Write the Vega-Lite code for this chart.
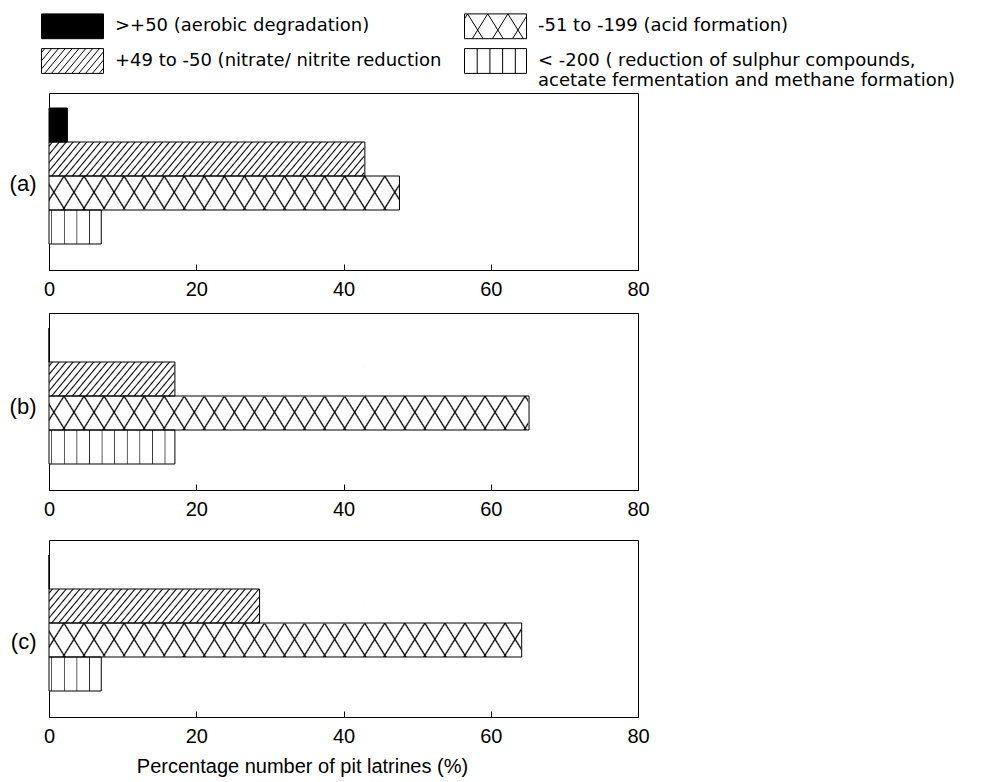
{
  "$schema": "https://vega.github.io/schema/vega-lite/v6.json",
  "padding": {"left": 8, "top": 10, "right": 0, "bottom": 0},
  "background": "white",
  "data": {"values": [
    {"panel": "a", "category": ">+50  (aerobic degradation)", "percent": 2.5},
    {"panel": "a", "category": "+49 to -50 (nitrate/ nitrite reduction", "percent": 42.9},
    {"panel": "a", "category": "-51 to -199 (acid formation)", "percent": 47.6},
    {"panel": "a", "category": "< -200 ( reduction of sulphur compounds, acetate fermentation and methane formation)", "percent": 7.1},
    {"panel": "b", "category": ">+50  (aerobic degradation)", "percent": 0},
    {"panel": "b", "category": "+49 to -50 (nitrate/ nitrite reduction", "percent": 17.1},
    {"panel": "b", "category": "-51 to -199 (acid formation)", "percent": 65.2},
    {"panel": "b", "category": "< -200 ( reduction of sulphur compounds, acetate fermentation and methane formation)", "percent": 17.1},
    {"panel": "c", "category": ">+50  (aerobic degradation)", "percent": 0},
    {"panel": "c", "category": "+49 to -50 (nitrate/ nitrite reduction", "percent": 28.6},
    {"panel": "c", "category": "-51 to -199 (acid formation)", "percent": 64.2},
    {"panel": "c", "category": "< -200 ( reduction of sulphur compounds, acetate fermentation and methane formation)", "percent": 7.1}
  ]},
  "transform": [{"joinaggregate": [{"op": "max", "field": "percent", "as": "maxPct"}], "groupby": ["category"]}],
  "spacing": 19,
  "vconcat": [
    {
      "spacing": 12,
      "vconcat": [
        {
          "width": 589, "height": 177,
          "transform": [{"filter": "datum.panel === 'a'"}],
          "encoding": {"y": {"field": "category", "type": "nominal", "scale": {"domain": [">+50  (aerobic degradation)", "+49 to -50 (nitrate/ nitrite reduction", "-51 to -199 (acid formation)", "< -200 ( reduction of sulphur compounds, acetate fermentation and methane formation)"], "paddingInner": 0, "paddingOuter": 0.6029, "align": 0.366}, "axis": {"title": "(a)", "titlePadding": 13, "titleY": 90}}},
          "layer": [
            {"transform": [{"filter": "indexof(datum.category, 'nitrate') >= 0"}], "mark": {"type": "bar", "strokeWidth": 0, "fill": {"gradient": "linear", "x1": 0, "y1": 0, "x2": 1.081, "y2": 0.0969, "stops": [
        {"offset":0.006,"color":"#fff"},{"offset":0.010,"color":"#000"},{"offset":0.014,"color":"#fff"},
        {"offset":0.026,"color":"#fff"},{"offset":0.030,"color":"#000"},{"offset":0.034,"color":"#fff"},
        {"offset":0.046,"color":"#fff"},{"offset":0.050,"color":"#000"},{"offset":0.054,"color":"#fff"},
        {"offset":0.066,"color":"#fff"},{"offset":0.070,"color":"#000"},{"offset":0.074,"color":"#fff"},
        {"offset":0.086,"color":"#fff"},{"offset":0.090,"color":"#000"},{"offset":0.094,"color":"#fff"},
        {"offset":0.106,"color":"#fff"},{"offset":0.110,"color":"#000"},{"offset":0.114,"color":"#fff"},
        {"offset":0.126,"color":"#fff"},{"offset":0.130,"color":"#000"},{"offset":0.134,"color":"#fff"},
        {"offset":0.146,"color":"#fff"},{"offset":0.150,"color":"#000"},{"offset":0.154,"color":"#fff"},
        {"offset":0.166,"color":"#fff"},{"offset":0.170,"color":"#000"},{"offset":0.174,"color":"#fff"},
        {"offset":0.186,"color":"#fff"},{"offset":0.190,"color":"#000"},{"offset":0.194,"color":"#fff"},
        {"offset":0.206,"color":"#fff"},{"offset":0.210,"color":"#000"},{"offset":0.214,"color":"#fff"},
        {"offset":0.226,"color":"#fff"},{"offset":0.230,"color":"#000"},{"offset":0.234,"color":"#fff"},
        {"offset":0.246,"color":"#fff"},{"offset":0.250,"color":"#000"},{"offset":0.254,"color":"#fff"},
        {"offset":0.266,"color":"#fff"},{"offset":0.270,"color":"#000"},{"offset":0.274,"color":"#fff"},
        {"offset":0.286,"color":"#fff"},{"offset":0.290,"color":"#000"},{"offset":0.294,"color":"#fff"},
        {"offset":0.306,"color":"#fff"},{"offset":0.310,"color":"#000"},{"offset":0.314,"color":"#fff"},
        {"offset":0.326,"color":"#fff"},{"offset":0.330,"color":"#000"},{"offset":0.334,"color":"#fff"},
        {"offset":0.346,"color":"#fff"},{"offset":0.350,"color":"#000"},{"offset":0.354,"color":"#fff"},
        {"offset":0.366,"color":"#fff"},{"offset":0.370,"color":"#000"},{"offset":0.374,"color":"#fff"},
        {"offset":0.386,"color":"#fff"},{"offset":0.390,"color":"#000"},{"offset":0.394,"color":"#fff"},
        {"offset":0.406,"color":"#fff"},{"offset":0.410,"color":"#000"},{"offset":0.414,"color":"#fff"},
        {"offset":0.426,"color":"#fff"},{"offset":0.430,"color":"#000"},{"offset":0.434,"color":"#fff"},
        {"offset":0.446,"color":"#fff"},{"offset":0.450,"color":"#000"},{"offset":0.454,"color":"#fff"},
        {"offset":0.466,"color":"#fff"},{"offset":0.470,"color":"#000"},{"offset":0.474,"color":"#fff"},
        {"offset":0.486,"color":"#fff"},{"offset":0.490,"color":"#000"},{"offset":0.494,"color":"#fff"},
        {"offset":0.506,"color":"#fff"},{"offset":0.510,"color":"#000"},{"offset":0.514,"color":"#fff"},
        {"offset":0.526,"color":"#fff"},{"offset":0.530,"color":"#000"},{"offset":0.534,"color":"#fff"},
        {"offset":0.546,"color":"#fff"},{"offset":0.550,"color":"#000"},{"offset":0.554,"color":"#fff"},
        {"offset":0.566,"color":"#fff"},{"offset":0.570,"color":"#000"},{"offset":0.574,"color":"#fff"},
        {"offset":0.586,"color":"#fff"},{"offset":0.590,"color":"#000"},{"offset":0.594,"color":"#fff"},
        {"offset":0.606,"color":"#fff"},{"offset":0.610,"color":"#000"},{"offset":0.614,"color":"#fff"},
        {"offset":0.626,"color":"#fff"},{"offset":0.630,"color":"#000"},{"offset":0.634,"color":"#fff"},
        {"offset":0.646,"color":"#fff"},{"offset":0.650,"color":"#000"},{"offset":0.654,"color":"#fff"},
        {"offset":0.666,"color":"#fff"},{"offset":0.670,"color":"#000"},{"offset":0.674,"color":"#fff"},
        {"offset":0.686,"color":"#fff"},{"offset":0.690,"color":"#000"},{"offset":0.694,"color":"#fff"},
        {"offset":0.706,"color":"#fff"},{"offset":0.710,"color":"#000"},{"offset":0.714,"color":"#fff"},
        {"offset":0.726,"color":"#fff"},{"offset":0.730,"color":"#000"},{"offset":0.734,"color":"#fff"},
        {"offset":0.746,"color":"#fff"},{"offset":0.750,"color":"#000"},{"offset":0.754,"color":"#fff"},
        {"offset":0.766,"color":"#fff"},{"offset":0.770,"color":"#000"},{"offset":0.774,"color":"#fff"},
        {"offset":0.786,"color":"#fff"},{"offset":0.790,"color":"#000"},{"offset":0.794,"color":"#fff"},
        {"offset":0.806,"color":"#fff"},{"offset":0.810,"color":"#000"},{"offset":0.814,"color":"#fff"},
        {"offset":0.826,"color":"#fff"},{"offset":0.830,"color":"#000"},{"offset":0.834,"color":"#fff"},
        {"offset":0.846,"color":"#fff"},{"offset":0.850,"color":"#000"},{"offset":0.854,"color":"#fff"},
        {"offset":0.866,"color":"#fff"},{"offset":0.870,"color":"#000"},{"offset":0.874,"color":"#fff"},
        {"offset":0.886,"color":"#fff"},{"offset":0.890,"color":"#000"},{"offset":0.894,"color":"#fff"},
        {"offset":0.906,"color":"#fff"},{"offset":0.910,"color":"#000"},{"offset":0.914,"color":"#fff"},
        {"offset":0.926,"color":"#fff"},{"offset":0.930,"color":"#000"},{"offset":0.934,"color":"#fff"},
        {"offset":0.946,"color":"#fff"},{"offset":0.950,"color":"#000"},{"offset":0.954,"color":"#fff"},
        {"offset":0.966,"color":"#fff"},{"offset":0.970,"color":"#000"},{"offset":0.974,"color":"#fff"},
        {"offset":0.986,"color":"#fff"},{"offset":0.990,"color":"#000"},{"offset":0.994,"color":"#fff"}
      ]}}, "encoding": {"x": {"field": "maxPct", "type": "quantitative"}}},
            {"transform": [{"filter": "indexof(datum.category, 'acid') >= 0"}], "mark": {"type": "bar", "strokeWidth": 0, "fill": {"gradient": "linear", "x1": 0, "y1": 0, "x2": 1.0422, "y2": 0.0461, "stops": [
        {"offset":0.027,"color":"#fff"},{"offset":0.030,"color":"#000"},{"offset":0.033,"color":"#fff"},
        {"offset":0.067,"color":"#fff"},{"offset":0.070,"color":"#000"},{"offset":0.073,"color":"#fff"},
        {"offset":0.107,"color":"#fff"},{"offset":0.110,"color":"#000"},{"offset":0.113,"color":"#fff"},
        {"offset":0.147,"color":"#fff"},{"offset":0.150,"color":"#000"},{"offset":0.153,"color":"#fff"},
        {"offset":0.187,"color":"#fff"},{"offset":0.190,"color":"#000"},{"offset":0.193,"color":"#fff"},
        {"offset":0.227,"color":"#fff"},{"offset":0.230,"color":"#000"},{"offset":0.233,"color":"#fff"},
        {"offset":0.267,"color":"#fff"},{"offset":0.270,"color":"#000"},{"offset":0.273,"color":"#fff"},
        {"offset":0.307,"color":"#fff"},{"offset":0.310,"color":"#000"},{"offset":0.313,"color":"#fff"},
        {"offset":0.347,"color":"#fff"},{"offset":0.350,"color":"#000"},{"offset":0.353,"color":"#fff"},
        {"offset":0.387,"color":"#fff"},{"offset":0.390,"color":"#000"},{"offset":0.393,"color":"#fff"},
        {"offset":0.427,"color":"#fff"},{"offset":0.430,"color":"#000"},{"offset":0.433,"color":"#fff"},
        {"offset":0.467,"color":"#fff"},{"offset":0.470,"color":"#000"},{"offset":0.473,"color":"#fff"},
        {"offset":0.507,"color":"#fff"},{"offset":0.510,"color":"#000"},{"offset":0.513,"color":"#fff"},
        {"offset":0.547,"color":"#fff"},{"offset":0.550,"color":"#000"},{"offset":0.553,"color":"#fff"},
        {"offset":0.587,"color":"#fff"},{"offset":0.590,"color":"#000"},{"offset":0.593,"color":"#fff"},
        {"offset":0.627,"color":"#fff"},{"offset":0.630,"color":"#000"},{"offset":0.633,"color":"#fff"},
        {"offset":0.667,"color":"#fff"},{"offset":0.670,"color":"#000"},{"offset":0.673,"color":"#fff"},
        {"offset":0.707,"color":"#fff"},{"offset":0.710,"color":"#000"},{"offset":0.713,"color":"#fff"},
        {"offset":0.747,"color":"#fff"},{"offset":0.750,"color":"#000"},{"offset":0.753,"color":"#fff"},
        {"offset":0.787,"color":"#fff"},{"offset":0.790,"color":"#000"},{"offset":0.793,"color":"#fff"},
        {"offset":0.827,"color":"#fff"},{"offset":0.830,"color":"#000"},{"offset":0.833,"color":"#fff"},
        {"offset":0.867,"color":"#fff"},{"offset":0.870,"color":"#000"},{"offset":0.873,"color":"#fff"},
        {"offset":0.907,"color":"#fff"},{"offset":0.910,"color":"#000"},{"offset":0.913,"color":"#fff"},
        {"offset":0.947,"color":"#fff"},{"offset":0.950,"color":"#000"},{"offset":0.953,"color":"#fff"},
        {"offset":0.987,"color":"#fff"},{"offset":0.990,"color":"#000"},{"offset":0.993,"color":"#fff"}
      ]}}, "encoding": {"x": {"field": "maxPct", "type": "quantitative"}}},
            {"transform": [{"filter": "indexof(datum.category, 'acid') >= 0"}], "mark": {"type": "bar", "strokeWidth": 0, "fill": {"gradient": "linear", "x1": 0, "y1": 1, "x2": 1.0422, "y2": 0.9539, "stops": [
        {"offset":0.029,"color":"rgba(0,0,0,0)"},{"offset":0.032,"color":"#000"},{"offset":0.035,"color":"rgba(0,0,0,0)"},
        {"offset":0.069,"color":"rgba(0,0,0,0)"},{"offset":0.072,"color":"#000"},{"offset":0.075,"color":"rgba(0,0,0,0)"},
        {"offset":0.109,"color":"rgba(0,0,0,0)"},{"offset":0.112,"color":"#000"},{"offset":0.115,"color":"rgba(0,0,0,0)"},
        {"offset":0.149,"color":"rgba(0,0,0,0)"},{"offset":0.152,"color":"#000"},{"offset":0.155,"color":"rgba(0,0,0,0)"},
        {"offset":0.189,"color":"rgba(0,0,0,0)"},{"offset":0.192,"color":"#000"},{"offset":0.195,"color":"rgba(0,0,0,0)"},
        {"offset":0.229,"color":"rgba(0,0,0,0)"},{"offset":0.232,"color":"#000"},{"offset":0.235,"color":"rgba(0,0,0,0)"},
        {"offset":0.269,"color":"rgba(0,0,0,0)"},{"offset":0.272,"color":"#000"},{"offset":0.275,"color":"rgba(0,0,0,0)"},
        {"offset":0.309,"color":"rgba(0,0,0,0)"},{"offset":0.312,"color":"#000"},{"offset":0.315,"color":"rgba(0,0,0,0)"},
        {"offset":0.349,"color":"rgba(0,0,0,0)"},{"offset":0.352,"color":"#000"},{"offset":0.355,"color":"rgba(0,0,0,0)"},
        {"offset":0.389,"color":"rgba(0,0,0,0)"},{"offset":0.392,"color":"#000"},{"offset":0.395,"color":"rgba(0,0,0,0)"},
        {"offset":0.429,"color":"rgba(0,0,0,0)"},{"offset":0.432,"color":"#000"},{"offset":0.435,"color":"rgba(0,0,0,0)"},
        {"offset":0.469,"color":"rgba(0,0,0,0)"},{"offset":0.472,"color":"#000"},{"offset":0.475,"color":"rgba(0,0,0,0)"},
        {"offset":0.509,"color":"rgba(0,0,0,0)"},{"offset":0.512,"color":"#000"},{"offset":0.515,"color":"rgba(0,0,0,0)"},
        {"offset":0.549,"color":"rgba(0,0,0,0)"},{"offset":0.552,"color":"#000"},{"offset":0.555,"color":"rgba(0,0,0,0)"},
        {"offset":0.589,"color":"rgba(0,0,0,0)"},{"offset":0.592,"color":"#000"},{"offset":0.595,"color":"rgba(0,0,0,0)"},
        {"offset":0.629,"color":"rgba(0,0,0,0)"},{"offset":0.632,"color":"#000"},{"offset":0.635,"color":"rgba(0,0,0,0)"},
        {"offset":0.669,"color":"rgba(0,0,0,0)"},{"offset":0.672,"color":"#000"},{"offset":0.675,"color":"rgba(0,0,0,0)"},
        {"offset":0.709,"color":"rgba(0,0,0,0)"},{"offset":0.712,"color":"#000"},{"offset":0.715,"color":"rgba(0,0,0,0)"},
        {"offset":0.749,"color":"rgba(0,0,0,0)"},{"offset":0.752,"color":"#000"},{"offset":0.755,"color":"rgba(0,0,0,0)"},
        {"offset":0.789,"color":"rgba(0,0,0,0)"},{"offset":0.792,"color":"#000"},{"offset":0.795,"color":"rgba(0,0,0,0)"},
        {"offset":0.829,"color":"rgba(0,0,0,0)"},{"offset":0.832,"color":"#000"},{"offset":0.835,"color":"rgba(0,0,0,0)"},
        {"offset":0.869,"color":"rgba(0,0,0,0)"},{"offset":0.872,"color":"#000"},{"offset":0.875,"color":"rgba(0,0,0,0)"},
        {"offset":0.909,"color":"rgba(0,0,0,0)"},{"offset":0.912,"color":"#000"},{"offset":0.915,"color":"rgba(0,0,0,0)"},
        {"offset":0.949,"color":"rgba(0,0,0,0)"},{"offset":0.952,"color":"#000"},{"offset":0.955,"color":"rgba(0,0,0,0)"},
        {"offset":0.989,"color":"rgba(0,0,0,0)"},{"offset":0.992,"color":"#000"},{"offset":0.995,"color":"rgba(0,0,0,0)"}
      ]}}, "encoding": {"x": {"field": "maxPct", "type": "quantitative"}}},
            {"transform": [{"filter": "indexof(datum.category, 'sulphur') >= 0"}], "mark": {"type": "bar", "strokeWidth": 0, "fill": {"gradient": "linear", "x1": 0, "y1": 0, "x2": 1, "y2": 0, "stops": [
        {"offset":0.0151,"color":"#fff"},{"offset":0.0214,"color":"#222"},{"offset":0.0277,"color":"#fff"},
        {"offset":0.1151,"color":"#fff"},{"offset":0.1214,"color":"#222"},{"offset":0.1277,"color":"#fff"},
        {"offset":0.2151,"color":"#fff"},{"offset":0.2214,"color":"#222"},{"offset":0.2277,"color":"#fff"},
        {"offset":0.3151,"color":"#fff"},{"offset":0.3214,"color":"#222"},{"offset":0.3277,"color":"#fff"},
        {"offset":0.4151,"color":"#fff"},{"offset":0.4214,"color":"#222"},{"offset":0.4277,"color":"#fff"},
        {"offset":0.5151,"color":"#fff"},{"offset":0.5214,"color":"#222"},{"offset":0.5277,"color":"#fff"},
        {"offset":0.6151,"color":"#fff"},{"offset":0.6214,"color":"#222"},{"offset":0.6277,"color":"#fff"},
        {"offset":0.7151,"color":"#fff"},{"offset":0.7214,"color":"#222"},{"offset":0.7277,"color":"#fff"},
        {"offset":0.8151,"color":"#fff"},{"offset":0.8214,"color":"#222"},{"offset":0.8277,"color":"#fff"},
        {"offset":0.9151,"color":"#fff"},{"offset":0.9214,"color":"#222"},{"offset":0.9277,"color":"#fff"}
      ]}}, "encoding": {"x": {"field": "maxPct", "type": "quantitative"}}},
            {"transform": [{"filter": "indexof(datum.category, 'aerobic') < 0"}], "mark": {"type": "bar", "fill": "white", "stroke": "white", "strokeWidth": 1}, "encoding": {"x": {"field": "percent", "type": "quantitative"}, "x2": {"field": "maxPct"}}},
            {"mark": {"type": "bar", "stroke": "black", "strokeWidth": 1},
             "encoding": {
               "x": {"field": "percent", "type": "quantitative", "scale": {"domain": [0, 80]}, "axis": {"orient": "bottom", "values": [0,20,40,60,80], "labelOverlap": false, "tickSize": -6, "labelPadding": 15, "title": null}},
               "fill": {"field": "category", "type": "nominal",
                 "scale": {"domain": [">+50  (aerobic degradation)", "-51 to -199 (acid formation)", "+49 to -50 (nitrate/ nitrite reduction", "< -200 ( reduction of sulphur compounds, acetate fermentation and methane formation)"], "range": ["black", "transparent", "transparent", "transparent"]},
                 "legend": {
                   "title": null, "orient": "none", "legendX": -8, "legendY": -83,
                   "direction": "horizontal", "columns": 2,
                   "symbolType": "M-1,-0.8H3V0.8H-1Z",
                   "symbolSize": 961, "symbolStrokeWidth": 1, "symbolStrokeColor": "black", "symbolOffset": 0,
                   "labelFont": "DejaVu Sans", "labelFontSize": 18, "labelColor": "black", "labelOffset": 42, "labelLimit": 460,
                   "columnPadding": 20, "rowPadding": 4, "padding": 0,
                   "labelExpr": "indexof(datum.label, 'sulphur') >= 0 ? ['< -200 ( reduction of sulphur compounds,', '\u00a0\u00a0acetate fermentation and methane formation)'] : datum.label",
                   "encode": {
                     "symbols": {"update": {
                       "shape": [
                         {"test": "indexof(datum.value, 'nitrate') >= 0", "value": "M-1,-0.8H3V0.8H-1Z M-1,-0.544L-0.786,-0.8 M-1,-0.016L-0.346,-0.8 M-1,0.512L0.094,-0.8 M-0.8,0.8L0.534,-0.8 M-0.36,0.8L0.974,-0.8 M0.08,0.8L1.414,-0.8 M0.52,0.8L1.854,-0.8 M0.96,0.8L2.294,-0.8 M1.4,0.8L2.734,-0.8 M1.84,0.8L3,-0.592 M2.28,0.8L3,-0.064 M2.72,0.8L3,0.464"},
                         {"test": "indexof(datum.value, 'acid') >= 0", "value": "M-1,-0.8H3V0.8H-1Z M-1,-0.48L-0.8,-0.8 M-0.5,0.8L0.5,-0.8 M0.8,0.8L1.8,-0.8 M2.1,0.8L3,-0.64 M-0.8,-0.8L0.2,0.8 M0.5,-0.8L1.5,0.8 M1.8,-0.8L2.8,0.8"},
                         {"test": "indexof(datum.value, 'sulphur') >= 0", "value": "M-1,-0.8H3V0.8H-1Z M-0.18,-0.8V0.8 M0.64,-0.8V0.8 M1.46,-0.8V0.8 M2.28,-0.8V0.8"},
                         {"value": "M-1,-0.8H3V0.8H-1Z"}
                       ],
                       "stroke": {"value": "black"},
                       "strokeWidth": {"value": 1}
                     }},
                     "labels": {"update": {"ellipsis": {"value": ""}, "lineHeight": {"value": 20}}}
                   }
                 }
               }
             }}
          ]
        },
        {
          "width": 589, "height": 177,
          "transform": [{"filter": "datum.panel === 'b'"}],
          "encoding": {"y": {"field": "category", "type": "nominal", "scale": {"domain": [">+50  (aerobic degradation)", "+49 to -50 (nitrate/ nitrite reduction", "-51 to -199 (acid formation)", "< -200 ( reduction of sulphur compounds, acetate fermentation and methane formation)"], "paddingInner": 0, "paddingOuter": 0.6029, "align": 0.366}, "axis": {"title": "(b)", "titlePadding": 13, "titleY": 93}}},
          "layer": [
            {"transform": [{"filter": "indexof(datum.category, 'nitrate') >= 0"}], "mark": {"type": "bar", "strokeWidth": 0, "fill": {"gradient": "linear", "x1": 0, "y1": 0, "x2": 1.081, "y2": 0.0969, "stops": [
        {"offset":0.006,"color":"#fff"},{"offset":0.010,"color":"#000"},{"offset":0.014,"color":"#fff"},
        {"offset":0.026,"color":"#fff"},{"offset":0.030,"color":"#000"},{"offset":0.034,"color":"#fff"},
        {"offset":0.046,"color":"#fff"},{"offset":0.050,"color":"#000"},{"offset":0.054,"color":"#fff"},
        {"offset":0.066,"color":"#fff"},{"offset":0.070,"color":"#000"},{"offset":0.074,"color":"#fff"},
        {"offset":0.086,"color":"#fff"},{"offset":0.090,"color":"#000"},{"offset":0.094,"color":"#fff"},
        {"offset":0.106,"color":"#fff"},{"offset":0.110,"color":"#000"},{"offset":0.114,"color":"#fff"},
        {"offset":0.126,"color":"#fff"},{"offset":0.130,"color":"#000"},{"offset":0.134,"color":"#fff"},
        {"offset":0.146,"color":"#fff"},{"offset":0.150,"color":"#000"},{"offset":0.154,"color":"#fff"},
        {"offset":0.166,"color":"#fff"},{"offset":0.170,"color":"#000"},{"offset":0.174,"color":"#fff"},
        {"offset":0.186,"color":"#fff"},{"offset":0.190,"color":"#000"},{"offset":0.194,"color":"#fff"},
        {"offset":0.206,"color":"#fff"},{"offset":0.210,"color":"#000"},{"offset":0.214,"color":"#fff"},
        {"offset":0.226,"color":"#fff"},{"offset":0.230,"color":"#000"},{"offset":0.234,"color":"#fff"},
        {"offset":0.246,"color":"#fff"},{"offset":0.250,"color":"#000"},{"offset":0.254,"color":"#fff"},
        {"offset":0.266,"color":"#fff"},{"offset":0.270,"color":"#000"},{"offset":0.274,"color":"#fff"},
        {"offset":0.286,"color":"#fff"},{"offset":0.290,"color":"#000"},{"offset":0.294,"color":"#fff"},
        {"offset":0.306,"color":"#fff"},{"offset":0.310,"color":"#000"},{"offset":0.314,"color":"#fff"},
        {"offset":0.326,"color":"#fff"},{"offset":0.330,"color":"#000"},{"offset":0.334,"color":"#fff"},
        {"offset":0.346,"color":"#fff"},{"offset":0.350,"color":"#000"},{"offset":0.354,"color":"#fff"},
        {"offset":0.366,"color":"#fff"},{"offset":0.370,"color":"#000"},{"offset":0.374,"color":"#fff"},
        {"offset":0.386,"color":"#fff"},{"offset":0.390,"color":"#000"},{"offset":0.394,"color":"#fff"},
        {"offset":0.406,"color":"#fff"},{"offset":0.410,"color":"#000"},{"offset":0.414,"color":"#fff"},
        {"offset":0.426,"color":"#fff"},{"offset":0.430,"color":"#000"},{"offset":0.434,"color":"#fff"},
        {"offset":0.446,"color":"#fff"},{"offset":0.450,"color":"#000"},{"offset":0.454,"color":"#fff"},
        {"offset":0.466,"color":"#fff"},{"offset":0.470,"color":"#000"},{"offset":0.474,"color":"#fff"},
        {"offset":0.486,"color":"#fff"},{"offset":0.490,"color":"#000"},{"offset":0.494,"color":"#fff"},
        {"offset":0.506,"color":"#fff"},{"offset":0.510,"color":"#000"},{"offset":0.514,"color":"#fff"},
        {"offset":0.526,"color":"#fff"},{"offset":0.530,"color":"#000"},{"offset":0.534,"color":"#fff"},
        {"offset":0.546,"color":"#fff"},{"offset":0.550,"color":"#000"},{"offset":0.554,"color":"#fff"},
        {"offset":0.566,"color":"#fff"},{"offset":0.570,"color":"#000"},{"offset":0.574,"color":"#fff"},
        {"offset":0.586,"color":"#fff"},{"offset":0.590,"color":"#000"},{"offset":0.594,"color":"#fff"},
        {"offset":0.606,"color":"#fff"},{"offset":0.610,"color":"#000"},{"offset":0.614,"color":"#fff"},
        {"offset":0.626,"color":"#fff"},{"offset":0.630,"color":"#000"},{"offset":0.634,"color":"#fff"},
        {"offset":0.646,"color":"#fff"},{"offset":0.650,"color":"#000"},{"offset":0.654,"color":"#fff"},
        {"offset":0.666,"color":"#fff"},{"offset":0.670,"color":"#000"},{"offset":0.674,"color":"#fff"},
        {"offset":0.686,"color":"#fff"},{"offset":0.690,"color":"#000"},{"offset":0.694,"color":"#fff"},
        {"offset":0.706,"color":"#fff"},{"offset":0.710,"color":"#000"},{"offset":0.714,"color":"#fff"},
        {"offset":0.726,"color":"#fff"},{"offset":0.730,"color":"#000"},{"offset":0.734,"color":"#fff"},
        {"offset":0.746,"color":"#fff"},{"offset":0.750,"color":"#000"},{"offset":0.754,"color":"#fff"},
        {"offset":0.766,"color":"#fff"},{"offset":0.770,"color":"#000"},{"offset":0.774,"color":"#fff"},
        {"offset":0.786,"color":"#fff"},{"offset":0.790,"color":"#000"},{"offset":0.794,"color":"#fff"},
        {"offset":0.806,"color":"#fff"},{"offset":0.810,"color":"#000"},{"offset":0.814,"color":"#fff"},
        {"offset":0.826,"color":"#fff"},{"offset":0.830,"color":"#000"},{"offset":0.834,"color":"#fff"},
        {"offset":0.846,"color":"#fff"},{"offset":0.850,"color":"#000"},{"offset":0.854,"color":"#fff"},
        {"offset":0.866,"color":"#fff"},{"offset":0.870,"color":"#000"},{"offset":0.874,"color":"#fff"},
        {"offset":0.886,"color":"#fff"},{"offset":0.890,"color":"#000"},{"offset":0.894,"color":"#fff"},
        {"offset":0.906,"color":"#fff"},{"offset":0.910,"color":"#000"},{"offset":0.914,"color":"#fff"},
        {"offset":0.926,"color":"#fff"},{"offset":0.930,"color":"#000"},{"offset":0.934,"color":"#fff"},
        {"offset":0.946,"color":"#fff"},{"offset":0.950,"color":"#000"},{"offset":0.954,"color":"#fff"},
        {"offset":0.966,"color":"#fff"},{"offset":0.970,"color":"#000"},{"offset":0.974,"color":"#fff"},
        {"offset":0.986,"color":"#fff"},{"offset":0.990,"color":"#000"},{"offset":0.994,"color":"#fff"}
      ]}}, "encoding": {"x": {"field": "maxPct", "type": "quantitative"}}},
            {"transform": [{"filter": "indexof(datum.category, 'acid') >= 0"}], "mark": {"type": "bar", "strokeWidth": 0, "fill": {"gradient": "linear", "x1": 0, "y1": 0, "x2": 1.0422, "y2": 0.0461, "stops": [
        {"offset":0.027,"color":"#fff"},{"offset":0.030,"color":"#000"},{"offset":0.033,"color":"#fff"},
        {"offset":0.067,"color":"#fff"},{"offset":0.070,"color":"#000"},{"offset":0.073,"color":"#fff"},
        {"offset":0.107,"color":"#fff"},{"offset":0.110,"color":"#000"},{"offset":0.113,"color":"#fff"},
        {"offset":0.147,"color":"#fff"},{"offset":0.150,"color":"#000"},{"offset":0.153,"color":"#fff"},
        {"offset":0.187,"color":"#fff"},{"offset":0.190,"color":"#000"},{"offset":0.193,"color":"#fff"},
        {"offset":0.227,"color":"#fff"},{"offset":0.230,"color":"#000"},{"offset":0.233,"color":"#fff"},
        {"offset":0.267,"color":"#fff"},{"offset":0.270,"color":"#000"},{"offset":0.273,"color":"#fff"},
        {"offset":0.307,"color":"#fff"},{"offset":0.310,"color":"#000"},{"offset":0.313,"color":"#fff"},
        {"offset":0.347,"color":"#fff"},{"offset":0.350,"color":"#000"},{"offset":0.353,"color":"#fff"},
        {"offset":0.387,"color":"#fff"},{"offset":0.390,"color":"#000"},{"offset":0.393,"color":"#fff"},
        {"offset":0.427,"color":"#fff"},{"offset":0.430,"color":"#000"},{"offset":0.433,"color":"#fff"},
        {"offset":0.467,"color":"#fff"},{"offset":0.470,"color":"#000"},{"offset":0.473,"color":"#fff"},
        {"offset":0.507,"color":"#fff"},{"offset":0.510,"color":"#000"},{"offset":0.513,"color":"#fff"},
        {"offset":0.547,"color":"#fff"},{"offset":0.550,"color":"#000"},{"offset":0.553,"color":"#fff"},
        {"offset":0.587,"color":"#fff"},{"offset":0.590,"color":"#000"},{"offset":0.593,"color":"#fff"},
        {"offset":0.627,"color":"#fff"},{"offset":0.630,"color":"#000"},{"offset":0.633,"color":"#fff"},
        {"offset":0.667,"color":"#fff"},{"offset":0.670,"color":"#000"},{"offset":0.673,"color":"#fff"},
        {"offset":0.707,"color":"#fff"},{"offset":0.710,"color":"#000"},{"offset":0.713,"color":"#fff"},
        {"offset":0.747,"color":"#fff"},{"offset":0.750,"color":"#000"},{"offset":0.753,"color":"#fff"},
        {"offset":0.787,"color":"#fff"},{"offset":0.790,"color":"#000"},{"offset":0.793,"color":"#fff"},
        {"offset":0.827,"color":"#fff"},{"offset":0.830,"color":"#000"},{"offset":0.833,"color":"#fff"},
        {"offset":0.867,"color":"#fff"},{"offset":0.870,"color":"#000"},{"offset":0.873,"color":"#fff"},
        {"offset":0.907,"color":"#fff"},{"offset":0.910,"color":"#000"},{"offset":0.913,"color":"#fff"},
        {"offset":0.947,"color":"#fff"},{"offset":0.950,"color":"#000"},{"offset":0.953,"color":"#fff"},
        {"offset":0.987,"color":"#fff"},{"offset":0.990,"color":"#000"},{"offset":0.993,"color":"#fff"}
      ]}}, "encoding": {"x": {"field": "maxPct", "type": "quantitative"}}},
            {"transform": [{"filter": "indexof(datum.category, 'acid') >= 0"}], "mark": {"type": "bar", "strokeWidth": 0, "fill": {"gradient": "linear", "x1": 0, "y1": 1, "x2": 1.0422, "y2": 0.9539, "stops": [
        {"offset":0.029,"color":"rgba(0,0,0,0)"},{"offset":0.032,"color":"#000"},{"offset":0.035,"color":"rgba(0,0,0,0)"},
        {"offset":0.069,"color":"rgba(0,0,0,0)"},{"offset":0.072,"color":"#000"},{"offset":0.075,"color":"rgba(0,0,0,0)"},
        {"offset":0.109,"color":"rgba(0,0,0,0)"},{"offset":0.112,"color":"#000"},{"offset":0.115,"color":"rgba(0,0,0,0)"},
        {"offset":0.149,"color":"rgba(0,0,0,0)"},{"offset":0.152,"color":"#000"},{"offset":0.155,"color":"rgba(0,0,0,0)"},
        {"offset":0.189,"color":"rgba(0,0,0,0)"},{"offset":0.192,"color":"#000"},{"offset":0.195,"color":"rgba(0,0,0,0)"},
        {"offset":0.229,"color":"rgba(0,0,0,0)"},{"offset":0.232,"color":"#000"},{"offset":0.235,"color":"rgba(0,0,0,0)"},
        {"offset":0.269,"color":"rgba(0,0,0,0)"},{"offset":0.272,"color":"#000"},{"offset":0.275,"color":"rgba(0,0,0,0)"},
        {"offset":0.309,"color":"rgba(0,0,0,0)"},{"offset":0.312,"color":"#000"},{"offset":0.315,"color":"rgba(0,0,0,0)"},
        {"offset":0.349,"color":"rgba(0,0,0,0)"},{"offset":0.352,"color":"#000"},{"offset":0.355,"color":"rgba(0,0,0,0)"},
        {"offset":0.389,"color":"rgba(0,0,0,0)"},{"offset":0.392,"color":"#000"},{"offset":0.395,"color":"rgba(0,0,0,0)"},
        {"offset":0.429,"color":"rgba(0,0,0,0)"},{"offset":0.432,"color":"#000"},{"offset":0.435,"color":"rgba(0,0,0,0)"},
        {"offset":0.469,"color":"rgba(0,0,0,0)"},{"offset":0.472,"color":"#000"},{"offset":0.475,"color":"rgba(0,0,0,0)"},
        {"offset":0.509,"color":"rgba(0,0,0,0)"},{"offset":0.512,"color":"#000"},{"offset":0.515,"color":"rgba(0,0,0,0)"},
        {"offset":0.549,"color":"rgba(0,0,0,0)"},{"offset":0.552,"color":"#000"},{"offset":0.555,"color":"rgba(0,0,0,0)"},
        {"offset":0.589,"color":"rgba(0,0,0,0)"},{"offset":0.592,"color":"#000"},{"offset":0.595,"color":"rgba(0,0,0,0)"},
        {"offset":0.629,"color":"rgba(0,0,0,0)"},{"offset":0.632,"color":"#000"},{"offset":0.635,"color":"rgba(0,0,0,0)"},
        {"offset":0.669,"color":"rgba(0,0,0,0)"},{"offset":0.672,"color":"#000"},{"offset":0.675,"color":"rgba(0,0,0,0)"},
        {"offset":0.709,"color":"rgba(0,0,0,0)"},{"offset":0.712,"color":"#000"},{"offset":0.715,"color":"rgba(0,0,0,0)"},
        {"offset":0.749,"color":"rgba(0,0,0,0)"},{"offset":0.752,"color":"#000"},{"offset":0.755,"color":"rgba(0,0,0,0)"},
        {"offset":0.789,"color":"rgba(0,0,0,0)"},{"offset":0.792,"color":"#000"},{"offset":0.795,"color":"rgba(0,0,0,0)"},
        {"offset":0.829,"color":"rgba(0,0,0,0)"},{"offset":0.832,"color":"#000"},{"offset":0.835,"color":"rgba(0,0,0,0)"},
        {"offset":0.869,"color":"rgba(0,0,0,0)"},{"offset":0.872,"color":"#000"},{"offset":0.875,"color":"rgba(0,0,0,0)"},
        {"offset":0.909,"color":"rgba(0,0,0,0)"},{"offset":0.912,"color":"#000"},{"offset":0.915,"color":"rgba(0,0,0,0)"},
        {"offset":0.949,"color":"rgba(0,0,0,0)"},{"offset":0.952,"color":"#000"},{"offset":0.955,"color":"rgba(0,0,0,0)"},
        {"offset":0.989,"color":"rgba(0,0,0,0)"},{"offset":0.992,"color":"#000"},{"offset":0.995,"color":"rgba(0,0,0,0)"}
      ]}}, "encoding": {"x": {"field": "maxPct", "type": "quantitative"}}},
            {"transform": [{"filter": "indexof(datum.category, 'sulphur') >= 0"}], "mark": {"type": "bar", "strokeWidth": 0, "fill": {"gradient": "linear", "x1": 0, "y1": 0, "x2": 1, "y2": 0, "stops": [
        {"offset":0.0151,"color":"#fff"},{"offset":0.0214,"color":"#222"},{"offset":0.0277,"color":"#fff"},
        {"offset":0.1151,"color":"#fff"},{"offset":0.1214,"color":"#222"},{"offset":0.1277,"color":"#fff"},
        {"offset":0.2151,"color":"#fff"},{"offset":0.2214,"color":"#222"},{"offset":0.2277,"color":"#fff"},
        {"offset":0.3151,"color":"#fff"},{"offset":0.3214,"color":"#222"},{"offset":0.3277,"color":"#fff"},
        {"offset":0.4151,"color":"#fff"},{"offset":0.4214,"color":"#222"},{"offset":0.4277,"color":"#fff"},
        {"offset":0.5151,"color":"#fff"},{"offset":0.5214,"color":"#222"},{"offset":0.5277,"color":"#fff"},
        {"offset":0.6151,"color":"#fff"},{"offset":0.6214,"color":"#222"},{"offset":0.6277,"color":"#fff"},
        {"offset":0.7151,"color":"#fff"},{"offset":0.7214,"color":"#222"},{"offset":0.7277,"color":"#fff"},
        {"offset":0.8151,"color":"#fff"},{"offset":0.8214,"color":"#222"},{"offset":0.8277,"color":"#fff"},
        {"offset":0.9151,"color":"#fff"},{"offset":0.9214,"color":"#222"},{"offset":0.9277,"color":"#fff"}
      ]}}, "encoding": {"x": {"field": "maxPct", "type": "quantitative"}}},
            {"transform": [{"filter": "indexof(datum.category, 'aerobic') < 0"}], "mark": {"type": "bar", "fill": "white", "stroke": "white", "strokeWidth": 1}, "encoding": {"x": {"field": "percent", "type": "quantitative"}, "x2": {"field": "maxPct"}}},
            {"mark": {"type": "bar", "stroke": "black", "strokeWidth": 1},
             "encoding": {
               "x": {"field": "percent", "type": "quantitative", "scale": {"domain": [0, 80]}, "axis": {"orient": "bottom", "values": [0,20,40,60,80], "labelOverlap": false, "tickSize": -6, "labelPadding": 15, "title": null}},
               "fill": {"field": "category", "type": "nominal",
                 "scale": {"domain": [">+50  (aerobic degradation)", "-51 to -199 (acid formation)", "+49 to -50 (nitrate/ nitrite reduction", "< -200 ( reduction of sulphur compounds, acetate fermentation and methane formation)"], "range": ["black", "transparent", "transparent", "transparent"]}}
             }}
          ]
        }
      ]
    },
    {
      "width": 589, "height": 177,
      "transform": [{"filter": "datum.panel === 'c'"}],
      "encoding": {"y": {"field": "category", "type": "nominal", "scale": {"domain": [">+50  (aerobic degradation)", "+49 to -50 (nitrate/ nitrite reduction", "-51 to -199 (acid formation)", "< -200 ( reduction of sulphur compounds, acetate fermentation and methane formation)"], "paddingInner": 0, "paddingOuter": 0.6029, "align": 0.366}, "axis": {"title": "(c)", "titlePadding": 13, "titleY": 101}}},
      "layer": [
        {"transform": [{"filter": "indexof(datum.category, 'nitrate') >= 0"}], "mark": {"type": "bar", "strokeWidth": 0, "fill": {"gradient": "linear", "x1": 0, "y1": 0, "x2": 1.081, "y2": 0.0969, "stops": [
        {"offset":0.006,"color":"#fff"},{"offset":0.010,"color":"#000"},{"offset":0.014,"color":"#fff"},
        {"offset":0.026,"color":"#fff"},{"offset":0.030,"color":"#000"},{"offset":0.034,"color":"#fff"},
        {"offset":0.046,"color":"#fff"},{"offset":0.050,"color":"#000"},{"offset":0.054,"color":"#fff"},
        {"offset":0.066,"color":"#fff"},{"offset":0.070,"color":"#000"},{"offset":0.074,"color":"#fff"},
        {"offset":0.086,"color":"#fff"},{"offset":0.090,"color":"#000"},{"offset":0.094,"color":"#fff"},
        {"offset":0.106,"color":"#fff"},{"offset":0.110,"color":"#000"},{"offset":0.114,"color":"#fff"},
        {"offset":0.126,"color":"#fff"},{"offset":0.130,"color":"#000"},{"offset":0.134,"color":"#fff"},
        {"offset":0.146,"color":"#fff"},{"offset":0.150,"color":"#000"},{"offset":0.154,"color":"#fff"},
        {"offset":0.166,"color":"#fff"},{"offset":0.170,"color":"#000"},{"offset":0.174,"color":"#fff"},
        {"offset":0.186,"color":"#fff"},{"offset":0.190,"color":"#000"},{"offset":0.194,"color":"#fff"},
        {"offset":0.206,"color":"#fff"},{"offset":0.210,"color":"#000"},{"offset":0.214,"color":"#fff"},
        {"offset":0.226,"color":"#fff"},{"offset":0.230,"color":"#000"},{"offset":0.234,"color":"#fff"},
        {"offset":0.246,"color":"#fff"},{"offset":0.250,"color":"#000"},{"offset":0.254,"color":"#fff"},
        {"offset":0.266,"color":"#fff"},{"offset":0.270,"color":"#000"},{"offset":0.274,"color":"#fff"},
        {"offset":0.286,"color":"#fff"},{"offset":0.290,"color":"#000"},{"offset":0.294,"color":"#fff"},
        {"offset":0.306,"color":"#fff"},{"offset":0.310,"color":"#000"},{"offset":0.314,"color":"#fff"},
        {"offset":0.326,"color":"#fff"},{"offset":0.330,"color":"#000"},{"offset":0.334,"color":"#fff"},
        {"offset":0.346,"color":"#fff"},{"offset":0.350,"color":"#000"},{"offset":0.354,"color":"#fff"},
        {"offset":0.366,"color":"#fff"},{"offset":0.370,"color":"#000"},{"offset":0.374,"color":"#fff"},
        {"offset":0.386,"color":"#fff"},{"offset":0.390,"color":"#000"},{"offset":0.394,"color":"#fff"},
        {"offset":0.406,"color":"#fff"},{"offset":0.410,"color":"#000"},{"offset":0.414,"color":"#fff"},
        {"offset":0.426,"color":"#fff"},{"offset":0.430,"color":"#000"},{"offset":0.434,"color":"#fff"},
        {"offset":0.446,"color":"#fff"},{"offset":0.450,"color":"#000"},{"offset":0.454,"color":"#fff"},
        {"offset":0.466,"color":"#fff"},{"offset":0.470,"color":"#000"},{"offset":0.474,"color":"#fff"},
        {"offset":0.486,"color":"#fff"},{"offset":0.490,"color":"#000"},{"offset":0.494,"color":"#fff"},
        {"offset":0.506,"color":"#fff"},{"offset":0.510,"color":"#000"},{"offset":0.514,"color":"#fff"},
        {"offset":0.526,"color":"#fff"},{"offset":0.530,"color":"#000"},{"offset":0.534,"color":"#fff"},
        {"offset":0.546,"color":"#fff"},{"offset":0.550,"color":"#000"},{"offset":0.554,"color":"#fff"},
        {"offset":0.566,"color":"#fff"},{"offset":0.570,"color":"#000"},{"offset":0.574,"color":"#fff"},
        {"offset":0.586,"color":"#fff"},{"offset":0.590,"color":"#000"},{"offset":0.594,"color":"#fff"},
        {"offset":0.606,"color":"#fff"},{"offset":0.610,"color":"#000"},{"offset":0.614,"color":"#fff"},
        {"offset":0.626,"color":"#fff"},{"offset":0.630,"color":"#000"},{"offset":0.634,"color":"#fff"},
        {"offset":0.646,"color":"#fff"},{"offset":0.650,"color":"#000"},{"offset":0.654,"color":"#fff"},
        {"offset":0.666,"color":"#fff"},{"offset":0.670,"color":"#000"},{"offset":0.674,"color":"#fff"},
        {"offset":0.686,"color":"#fff"},{"offset":0.690,"color":"#000"},{"offset":0.694,"color":"#fff"},
        {"offset":0.706,"color":"#fff"},{"offset":0.710,"color":"#000"},{"offset":0.714,"color":"#fff"},
        {"offset":0.726,"color":"#fff"},{"offset":0.730,"color":"#000"},{"offset":0.734,"color":"#fff"},
        {"offset":0.746,"color":"#fff"},{"offset":0.750,"color":"#000"},{"offset":0.754,"color":"#fff"},
        {"offset":0.766,"color":"#fff"},{"offset":0.770,"color":"#000"},{"offset":0.774,"color":"#fff"},
        {"offset":0.786,"color":"#fff"},{"offset":0.790,"color":"#000"},{"offset":0.794,"color":"#fff"},
        {"offset":0.806,"color":"#fff"},{"offset":0.810,"color":"#000"},{"offset":0.814,"color":"#fff"},
        {"offset":0.826,"color":"#fff"},{"offset":0.830,"color":"#000"},{"offset":0.834,"color":"#fff"},
        {"offset":0.846,"color":"#fff"},{"offset":0.850,"color":"#000"},{"offset":0.854,"color":"#fff"},
        {"offset":0.866,"color":"#fff"},{"offset":0.870,"color":"#000"},{"offset":0.874,"color":"#fff"},
        {"offset":0.886,"color":"#fff"},{"offset":0.890,"color":"#000"},{"offset":0.894,"color":"#fff"},
        {"offset":0.906,"color":"#fff"},{"offset":0.910,"color":"#000"},{"offset":0.914,"color":"#fff"},
        {"offset":0.926,"color":"#fff"},{"offset":0.930,"color":"#000"},{"offset":0.934,"color":"#fff"},
        {"offset":0.946,"color":"#fff"},{"offset":0.950,"color":"#000"},{"offset":0.954,"color":"#fff"},
        {"offset":0.966,"color":"#fff"},{"offset":0.970,"color":"#000"},{"offset":0.974,"color":"#fff"},
        {"offset":0.986,"color":"#fff"},{"offset":0.990,"color":"#000"},{"offset":0.994,"color":"#fff"}
      ]}}, "encoding": {"x": {"field": "maxPct", "type": "quantitative"}}},
        {"transform": [{"filter": "indexof(datum.category, 'acid') >= 0"}], "mark": {"type": "bar", "strokeWidth": 0, "fill": {"gradient": "linear", "x1": 0, "y1": 0, "x2": 1.0422, "y2": 0.0461, "stops": [
        {"offset":0.027,"color":"#fff"},{"offset":0.030,"color":"#000"},{"offset":0.033,"color":"#fff"},
        {"offset":0.067,"color":"#fff"},{"offset":0.070,"color":"#000"},{"offset":0.073,"color":"#fff"},
        {"offset":0.107,"color":"#fff"},{"offset":0.110,"color":"#000"},{"offset":0.113,"color":"#fff"},
        {"offset":0.147,"color":"#fff"},{"offset":0.150,"color":"#000"},{"offset":0.153,"color":"#fff"},
        {"offset":0.187,"color":"#fff"},{"offset":0.190,"color":"#000"},{"offset":0.193,"color":"#fff"},
        {"offset":0.227,"color":"#fff"},{"offset":0.230,"color":"#000"},{"offset":0.233,"color":"#fff"},
        {"offset":0.267,"color":"#fff"},{"offset":0.270,"color":"#000"},{"offset":0.273,"color":"#fff"},
        {"offset":0.307,"color":"#fff"},{"offset":0.310,"color":"#000"},{"offset":0.313,"color":"#fff"},
        {"offset":0.347,"color":"#fff"},{"offset":0.350,"color":"#000"},{"offset":0.353,"color":"#fff"},
        {"offset":0.387,"color":"#fff"},{"offset":0.390,"color":"#000"},{"offset":0.393,"color":"#fff"},
        {"offset":0.427,"color":"#fff"},{"offset":0.430,"color":"#000"},{"offset":0.433,"color":"#fff"},
        {"offset":0.467,"color":"#fff"},{"offset":0.470,"color":"#000"},{"offset":0.473,"color":"#fff"},
        {"offset":0.507,"color":"#fff"},{"offset":0.510,"color":"#000"},{"offset":0.513,"color":"#fff"},
        {"offset":0.547,"color":"#fff"},{"offset":0.550,"color":"#000"},{"offset":0.553,"color":"#fff"},
        {"offset":0.587,"color":"#fff"},{"offset":0.590,"color":"#000"},{"offset":0.593,"color":"#fff"},
        {"offset":0.627,"color":"#fff"},{"offset":0.630,"color":"#000"},{"offset":0.633,"color":"#fff"},
        {"offset":0.667,"color":"#fff"},{"offset":0.670,"color":"#000"},{"offset":0.673,"color":"#fff"},
        {"offset":0.707,"color":"#fff"},{"offset":0.710,"color":"#000"},{"offset":0.713,"color":"#fff"},
        {"offset":0.747,"color":"#fff"},{"offset":0.750,"color":"#000"},{"offset":0.753,"color":"#fff"},
        {"offset":0.787,"color":"#fff"},{"offset":0.790,"color":"#000"},{"offset":0.793,"color":"#fff"},
        {"offset":0.827,"color":"#fff"},{"offset":0.830,"color":"#000"},{"offset":0.833,"color":"#fff"},
        {"offset":0.867,"color":"#fff"},{"offset":0.870,"color":"#000"},{"offset":0.873,"color":"#fff"},
        {"offset":0.907,"color":"#fff"},{"offset":0.910,"color":"#000"},{"offset":0.913,"color":"#fff"},
        {"offset":0.947,"color":"#fff"},{"offset":0.950,"color":"#000"},{"offset":0.953,"color":"#fff"},
        {"offset":0.987,"color":"#fff"},{"offset":0.990,"color":"#000"},{"offset":0.993,"color":"#fff"}
      ]}}, "encoding": {"x": {"field": "maxPct", "type": "quantitative"}}},
        {"transform": [{"filter": "indexof(datum.category, 'acid') >= 0"}], "mark": {"type": "bar", "strokeWidth": 0, "fill": {"gradient": "linear", "x1": 0, "y1": 1, "x2": 1.0422, "y2": 0.9539, "stops": [
        {"offset":0.029,"color":"rgba(0,0,0,0)"},{"offset":0.032,"color":"#000"},{"offset":0.035,"color":"rgba(0,0,0,0)"},
        {"offset":0.069,"color":"rgba(0,0,0,0)"},{"offset":0.072,"color":"#000"},{"offset":0.075,"color":"rgba(0,0,0,0)"},
        {"offset":0.109,"color":"rgba(0,0,0,0)"},{"offset":0.112,"color":"#000"},{"offset":0.115,"color":"rgba(0,0,0,0)"},
        {"offset":0.149,"color":"rgba(0,0,0,0)"},{"offset":0.152,"color":"#000"},{"offset":0.155,"color":"rgba(0,0,0,0)"},
        {"offset":0.189,"color":"rgba(0,0,0,0)"},{"offset":0.192,"color":"#000"},{"offset":0.195,"color":"rgba(0,0,0,0)"},
        {"offset":0.229,"color":"rgba(0,0,0,0)"},{"offset":0.232,"color":"#000"},{"offset":0.235,"color":"rgba(0,0,0,0)"},
        {"offset":0.269,"color":"rgba(0,0,0,0)"},{"offset":0.272,"color":"#000"},{"offset":0.275,"color":"rgba(0,0,0,0)"},
        {"offset":0.309,"color":"rgba(0,0,0,0)"},{"offset":0.312,"color":"#000"},{"offset":0.315,"color":"rgba(0,0,0,0)"},
        {"offset":0.349,"color":"rgba(0,0,0,0)"},{"offset":0.352,"color":"#000"},{"offset":0.355,"color":"rgba(0,0,0,0)"},
        {"offset":0.389,"color":"rgba(0,0,0,0)"},{"offset":0.392,"color":"#000"},{"offset":0.395,"color":"rgba(0,0,0,0)"},
        {"offset":0.429,"color":"rgba(0,0,0,0)"},{"offset":0.432,"color":"#000"},{"offset":0.435,"color":"rgba(0,0,0,0)"},
        {"offset":0.469,"color":"rgba(0,0,0,0)"},{"offset":0.472,"color":"#000"},{"offset":0.475,"color":"rgba(0,0,0,0)"},
        {"offset":0.509,"color":"rgba(0,0,0,0)"},{"offset":0.512,"color":"#000"},{"offset":0.515,"color":"rgba(0,0,0,0)"},
        {"offset":0.549,"color":"rgba(0,0,0,0)"},{"offset":0.552,"color":"#000"},{"offset":0.555,"color":"rgba(0,0,0,0)"},
        {"offset":0.589,"color":"rgba(0,0,0,0)"},{"offset":0.592,"color":"#000"},{"offset":0.595,"color":"rgba(0,0,0,0)"},
        {"offset":0.629,"color":"rgba(0,0,0,0)"},{"offset":0.632,"color":"#000"},{"offset":0.635,"color":"rgba(0,0,0,0)"},
        {"offset":0.669,"color":"rgba(0,0,0,0)"},{"offset":0.672,"color":"#000"},{"offset":0.675,"color":"rgba(0,0,0,0)"},
        {"offset":0.709,"color":"rgba(0,0,0,0)"},{"offset":0.712,"color":"#000"},{"offset":0.715,"color":"rgba(0,0,0,0)"},
        {"offset":0.749,"color":"rgba(0,0,0,0)"},{"offset":0.752,"color":"#000"},{"offset":0.755,"color":"rgba(0,0,0,0)"},
        {"offset":0.789,"color":"rgba(0,0,0,0)"},{"offset":0.792,"color":"#000"},{"offset":0.795,"color":"rgba(0,0,0,0)"},
        {"offset":0.829,"color":"rgba(0,0,0,0)"},{"offset":0.832,"color":"#000"},{"offset":0.835,"color":"rgba(0,0,0,0)"},
        {"offset":0.869,"color":"rgba(0,0,0,0)"},{"offset":0.872,"color":"#000"},{"offset":0.875,"color":"rgba(0,0,0,0)"},
        {"offset":0.909,"color":"rgba(0,0,0,0)"},{"offset":0.912,"color":"#000"},{"offset":0.915,"color":"rgba(0,0,0,0)"},
        {"offset":0.949,"color":"rgba(0,0,0,0)"},{"offset":0.952,"color":"#000"},{"offset":0.955,"color":"rgba(0,0,0,0)"},
        {"offset":0.989,"color":"rgba(0,0,0,0)"},{"offset":0.992,"color":"#000"},{"offset":0.995,"color":"rgba(0,0,0,0)"}
      ]}}, "encoding": {"x": {"field": "maxPct", "type": "quantitative"}}},
        {"transform": [{"filter": "indexof(datum.category, 'sulphur') >= 0"}], "mark": {"type": "bar", "strokeWidth": 0, "fill": {"gradient": "linear", "x1": 0, "y1": 0, "x2": 1, "y2": 0, "stops": [
        {"offset":0.0151,"color":"#fff"},{"offset":0.0214,"color":"#222"},{"offset":0.0277,"color":"#fff"},
        {"offset":0.1151,"color":"#fff"},{"offset":0.1214,"color":"#222"},{"offset":0.1277,"color":"#fff"},
        {"offset":0.2151,"color":"#fff"},{"offset":0.2214,"color":"#222"},{"offset":0.2277,"color":"#fff"},
        {"offset":0.3151,"color":"#fff"},{"offset":0.3214,"color":"#222"},{"offset":0.3277,"color":"#fff"},
        {"offset":0.4151,"color":"#fff"},{"offset":0.4214,"color":"#222"},{"offset":0.4277,"color":"#fff"},
        {"offset":0.5151,"color":"#fff"},{"offset":0.5214,"color":"#222"},{"offset":0.5277,"color":"#fff"},
        {"offset":0.6151,"color":"#fff"},{"offset":0.6214,"color":"#222"},{"offset":0.6277,"color":"#fff"},
        {"offset":0.7151,"color":"#fff"},{"offset":0.7214,"color":"#222"},{"offset":0.7277,"color":"#fff"},
        {"offset":0.8151,"color":"#fff"},{"offset":0.8214,"color":"#222"},{"offset":0.8277,"color":"#fff"},
        {"offset":0.9151,"color":"#fff"},{"offset":0.9214,"color":"#222"},{"offset":0.9277,"color":"#fff"}
      ]}}, "encoding": {"x": {"field": "maxPct", "type": "quantitative"}}},
        {"transform": [{"filter": "indexof(datum.category, 'aerobic') < 0"}], "mark": {"type": "bar", "fill": "white", "stroke": "white", "strokeWidth": 1}, "encoding": {"x": {"field": "percent", "type": "quantitative"}, "x2": {"field": "maxPct"}}},
        {"mark": {"type": "bar", "stroke": "black", "strokeWidth": 1},
         "encoding": {
           "x": {"field": "percent", "type": "quantitative", "scale": {"domain": [0, 80]}, "axis": {"orient": "bottom", "values": [0,20,40,60,80], "labelOverlap": false, "tickSize": -6, "labelPadding": 15, "title": "Percentage number of pit latrines (%)", "titleX": 253, "titleY": 55, "titleAlign": "center", "titleBaseline": "alphabetic"}},
           "fill": {"field": "category", "type": "nominal",
             "scale": {"domain": [">+50  (aerobic degradation)", "-51 to -199 (acid formation)", "+49 to -50 (nitrate/ nitrite reduction", "< -200 ( reduction of sulphur compounds, acetate fermentation and methane formation)"], "range": ["black", "transparent", "transparent", "transparent"]}}
         }}
      ]
    }
  ],
  "config": {
    "font": "Liberation Sans",
    "view": {"stroke": "black", "strokeWidth": 1},
    "axis": {"grid": false, "domain": false, "labelFlush": false, "labelOverlap": false, "labelFont": "Liberation Sans", "labelFontSize": 20, "labelColor": "black", "tickColor": "black", "tickWidth": 1, "titleFont": "Liberation Sans", "titleFontSize": 20, "titleFontWeight": "normal", "titleColor": "black"},
    "axisY": {"labels": false, "ticks": false, "domain": false, "titleAngle": 0, "titleAlign": "right", "titleBaseline": "middle", "titleFontSize": 22, "minExtent": 0, "maxExtent": 0}
  }
}
